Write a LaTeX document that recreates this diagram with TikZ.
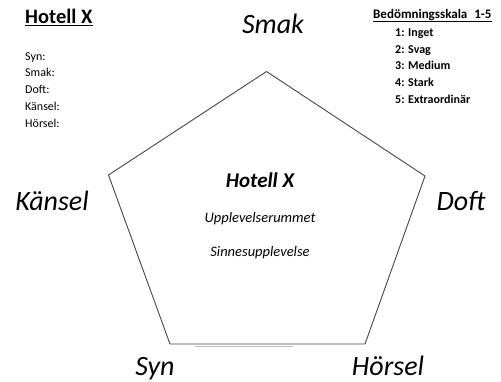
\documentclass[tikz,border=0pt]{standalone}
\usepackage{fontspec}
\setmainfont{Carlito}
\usepackage{tikz}
\definecolor{myedge}{RGB}{70,70,70}

\begin{document}
\begin{tikzpicture}[x=1pt, y=-1pt] % one unit is one pixel of the reference
    % Sizes of the texts
    \tikzset{
        sense/.style={anchor=base, font=\fontsize{28}{30}\selectfont\itshape},
        listitem/.style={anchor=base west, font=\fontsize{12}{13}\selectfont, inner sep=0pt},
        scaleitem/.style={anchor=base west, font=\fontsize{12}{13}\selectfont\bfseries, inner sep=0pt},
        centre/.style={anchor=base, font=\fontsize{14.5}{16}\selectfont\itshape}
    }
    \useasboundingbox (0,0) rectangle (501,381);

    % Corners of the pentagon
    \coordinate (top) at (266.5,71.5);
    \coordinate (right) at (425,176);
    \coordinate (bright) at (365,344);
    \coordinate (bleft) at (170,344);
    \coordinate (left) at (108.5,175);

    % Draw the pentagon
    \draw[myedge, line width=0.9pt, line join=miter] (top) -- (right) -- (bright) -- (bleft) -- (left) -- cycle;
    \draw[black!25, line width=1pt] (195,346.5) -- (293,346.5);

    % Senses round the pentagon
    \node[sense] (smak) at (273,33) {Smak};
    \node[sense] (kansel) at (52,210) {Känsel};
    \node[sense] (doft) at (461,210) {Doft};
    \node[sense] (syn) at (155,375) {Syn};
    \node[sense] (horsel) at (388,375) {Hörsel};

    % Texts inside the pentagon
    \node[anchor=base, font=\fontsize{21}{22}\selectfont\bfseries\itshape] (hotel) at (260,187) {Hotell X};
    \node[centre] (rum) at (260,222) {Upplevelserummet};
    \node[centre] (sinne) at (260,256) {Sinnesupplevelse};

    % Left list
    \node[anchor=base west, inner sep=0pt, font=\fontsize{20.5}{22}\selectfont\bfseries] (title) at (25,23) {Hotell X};
    \draw[black, line width=1.6pt] (title.base west) ++(0,2.5) -- ([yshift=-2.5pt]title.base east);
    \node[listitem] (l1) at (25,60) {Syn:};
    \node[listitem] (l2) at (25,76) {Smak:};
    \node[listitem] (l3) at (25,93) {Doft:};
    \node[listitem] (l4) at (25,110) {Känsel:};
    \node[listitem] (l5) at (25,127) {Hörsel:};

    % Right list
    \node[anchor=base west, inner sep=0pt, font=\fontsize{13}{14}\selectfont\bfseries] (scale) at (373,18) {\underline{Bedömningsskala\hspace{7pt}1-5}};
    \node[scaleitem] (s1) at (395,36) {1: Inget};
    \node[scaleitem] (s2) at (395,53) {2: Svag};
    \node[scaleitem] (s3) at (395,69) {3: Medium};
    \node[scaleitem] (s4) at (395,86) {4: Stark};
    \node[scaleitem] (s5) at (395,103) {5: Extraordinär};
\end{tikzpicture}
\end{document}
